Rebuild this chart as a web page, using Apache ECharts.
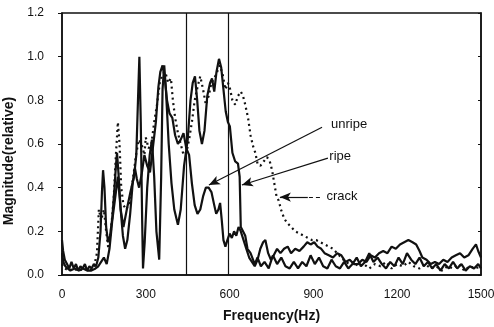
<!DOCTYPE html>
<html>
<head>
<meta charset="utf-8">
<script src="https://cdn.jsdelivr.net/npm/echarts@6/dist/echarts.min.js"></script>
<style>
html,body{margin:0;padding:0;background:#fff;}
#chart{width:494px;height:327px;}
</style>
</head>
<body>
<div id="chart"></div>
<script>
// ---- data (frequency in Hz, magnitude relative) ----
const unripeFreq = [0,4,10,18,26,34,42,50,58,66,74,82,90,98,106,114,122,130,138,143,147,152,158,165,172,180,188,193,197,203,210,218,226,234,244,253,261,268,276,285,295,305,315,326,336,345,352,360,368,376,385,395,405,415,425,435,445,455,465,475,485,495,505,515,525,535,545,552,560,566,572,578,585,592,600,608,616,624,632,640,650,660,670,680,690,700,710,720,728,738,748,758,770,782,795,808,820,835,850,865,878,890,903,915,928,940,955,970,985,1000,1015,1030,1045,1060,1075,1090,1105,1120,1135,1150,1165,1180,1195,1210,1225,1240,1255,1268,1280,1290,1305,1320,1335,1350,1365,1380,1395,1410,1425,1440,1455,1470,1482,1490,1500];
const unripeMag = [0.16,0.11,0.07,0.05,0.03,0.06,0.03,0.05,0.02,0.04,0.03,0.05,0.02,0.04,0.03,0.05,0.04,0.08,0.2,0.38,0.48,0.4,0.22,0.15,0.18,0.26,0.4,0.5,0.56,0.45,0.3,0.18,0.12,0.16,0.28,0.42,0.49,0.44,0.4,0.46,0.55,0.5,0.47,0.59,0.7,0.86,0.93,0.96,0.9,0.8,0.74,0.72,0.64,0.6,0.62,0.65,0.58,0.55,0.42,0.32,0.28,0.3,0.36,0.4,0.4,0.38,0.32,0.28,0.3,0.33,0.25,0.16,0.13,0.16,0.19,0.17,0.2,0.18,0.22,0.2,0.16,0.12,0.08,0.06,0.04,0.07,0.12,0.15,0.16,0.1,0.07,0.09,0.12,0.1,0.12,0.13,0.1,0.12,0.11,0.13,0.15,0.14,0.15,0.13,0.12,0.1,0.09,0.08,0.1,0.09,0.06,0.07,0.05,0.05,0.07,0.06,0.09,0.08,0.1,0.11,0.1,0.13,0.12,0.14,0.15,0.16,0.15,0.14,0.11,0.08,0.07,0.05,0.06,0.05,0.07,0.06,0.08,0.09,0.1,0.08,0.09,0.12,0.14,0.11,0.08];

const ripeFreq = [0,5,12,20,30,45,60,75,90,105,120,130,140,150,160,170,180,190,200,210,220,232,245,258,266,272,277,282,287,290,296,305,314,322,330,338,348,355,360,366,372,382,392,402,415,425,437,450,460,468,476,484,492,501,510,520,530,537,545,553,562,570,578,586,594,601,610,620,630,636,640,648,656,664,675,690,700,712,725,740,755,770,785,800,815,830,845,860,875,890,905,920,935,950,965,980,995,1010,1025,1040,1055,1070,1085,1100,1115,1130,1145,1160,1175,1190,1205,1220,1235,1250,1265,1280,1295,1310,1325,1340,1355,1370,1385,1400,1415,1430,1445,1460,1475,1490,1500];
const ripeMag = [0.1,0.06,0.04,0.03,0.02,0.03,0.02,0.03,0.02,0.02,0.03,0.04,0.06,0.08,0.05,0.12,0.25,0.35,0.45,0.3,0.22,0.3,0.38,0.45,0.55,0.8,1.0,0.7,0.25,0.03,0.15,0.4,0.55,0.62,0.45,0.2,0.07,0.45,0.85,0.96,0.85,0.6,0.42,0.3,0.23,0.3,0.5,0.62,0.8,0.88,0.91,0.8,0.66,0.6,0.66,0.82,0.88,0.9,0.84,0.93,0.99,0.95,0.85,0.75,0.7,0.68,0.56,0.52,0.51,0.45,0.22,0.2,0.18,0.12,0.1,0.05,0.08,0.04,0.06,0.03,0.09,0.05,0.08,0.04,0.03,0.06,0.03,0.06,0.04,0.09,0.05,0.08,0.04,0.03,0.07,0.04,0.03,0.06,0.03,0.05,0.08,0.04,0.06,0.1,0.06,0.08,0.05,0.03,0.06,0.04,0.08,0.05,0.1,0.07,0.05,0.08,0.04,0.06,0.03,0.05,0.02,0.05,0.03,0.06,0.03,0.05,0.02,0.04,0.03,0.05,0.03];

const crackFreq = [0,10,25,40,60,80,100,115,125,132,140,150,158,166,175,185,193,200,206,212,220,230,242,255,265,275,285,295,300,310,320,330,340,350,360,370,380,390,397,405,415,425,435,445,455,465,475,485,495,505,515,525,535,545,555,565,575,585,594,602,610,620,630,640,648,656,666,675,684,692,700,710,722,734,744,752,760,768,776,784,795,805,820,835,850,865,880,895,910,925,940,955,970,985,1000,1015,1030,1045,1060,1080,1100,1120,1140,1160,1180,1200,1220,1240,1260,1280,1300,1320,1340,1360,1380,1400,1420,1440,1460,1480,1500];
const crackMag = [0.05,0.03,0.02,0.03,0.02,0.03,0.02,0.04,0.1,0.3,0.25,0.3,0.2,0.12,0.2,0.35,0.55,0.7,0.6,0.4,0.32,0.3,0.33,0.45,0.55,0.62,0.6,0.55,0.63,0.58,0.6,0.7,0.78,0.88,0.92,0.93,0.88,0.9,0.8,0.72,0.65,0.6,0.55,0.56,0.62,0.7,0.8,0.86,0.91,0.85,0.78,0.82,0.88,0.9,0.93,0.96,0.92,0.85,0.88,0.85,0.8,0.78,0.82,0.84,0.82,0.78,0.72,0.64,0.59,0.56,0.51,0.5,0.52,0.54,0.52,0.48,0.42,0.36,0.34,0.3,0.26,0.24,0.22,0.2,0.19,0.18,0.17,0.16,0.16,0.15,0.14,0.13,0.12,0.1,0.08,0.06,0.05,0.06,0.04,0.05,0.03,0.05,0.04,0.06,0.03,0.05,0.04,0.06,0.04,0.03,0.05,0.03,0.04,0.02,0.04,0.03,0.05,0.02,0.04,0.03,0.04];

const bandEdges = [445, 595];              // vertical marker lines (Hz)
const xTicks = { min: 0, max: 1500, step: 300 };
const yTicks = { min: 0, max: 1.2, step: 0.2 };

// annotation: label, text anchor [Hz, mag], line start, arrow tip
const annotNames = ['unripe', 'ripe', 'crack'];
const annotText = [[963, 0.69], [957, 0.545], [947, 0.36]];
const annotStart = [[931, 0.677], [952, 0.535], [880, 0.357]];
const annotTip = [[526, 0.412], [644, 0.412], [780, 0.357]];
const crackDashFrom = [[884, 0.357], [924, 0.357]];

function pairs(xs, ys) { return xs.map((x, i) => [x, ys[i]]); }

const FONT = 'Liberation Sans, Arial, Helvetica, sans-serif';
const INK = '#111';

const chart = echarts.init(document.getElementById('chart'), null, { renderer: 'canvas' });

const arrowLines = annotNames.map((n, i) => [
  { coord: annotStart[i], symbol: 'none' },
  { coord: annotTip[i], symbol: 'arrow', symbolSize: [7, 11] }
]);

const option = {
  animation: false,
  backgroundColor: '#fff',
  grid: { left: 62, right: 13, top: 13, bottom: 52, show: true, borderColor: INK, borderWidth: 1.5, containLabel: false, outerBoundsMode: 'none' },
  xAxis: {
    type: 'value', min: xTicks.min, max: xTicks.max, interval: xTicks.step,
    name: 'Frequency(Hz)', nameLocation: 'middle', nameGap: 34,
    nameTextStyle: { fontFamily: FONT, fontSize: 14, fontWeight: 'bold', color: INK },
    axisLine: { show: true, lineStyle: { color: INK, width: 1.5 } },
    axisTick: { show: false },
    axisLabel: { fontFamily: FONT, fontSize: 12, color: INK, margin: 14, formatter: v => String(v) },
    splitLine: { show: false }
  },
  yAxis: [{
    type: 'value', min: yTicks.min, max: yTicks.max, interval: yTicks.step,
    name: 'Magnitude(relative)', nameLocation: 'middle', nameGap: 37, nameRotate: 90,
    nameTextStyle: { fontFamily: FONT, fontSize: 14, fontWeight: 'bold', color: INK, padding: [0, 34, 0, 0] },
    axisLine: { show: true, lineStyle: { color: INK, width: 1.5 } },
    axisTick: { show: true, inside: false, length: 4, lineStyle: { color: INK } },
    axisLabel: { fontFamily: FONT, fontSize: 12, color: INK, margin: 18, formatter: v => v.toFixed(1) },
    splitLine: { show: false }
  }, {
    type: 'value', position: 'right', min: yTicks.min, max: yTicks.max, interval: yTicks.step,
    axisLine: { show: true, lineStyle: { color: INK, width: 1.5 } },
    axisTick: { show: true, inside: true, length: 3, lineStyle: { color: INK } },
    axisLabel: { show: false }, splitLine: { show: false }
  }],
  series: [
    {
      name: 'crack', type: 'line', data: pairs(crackFreq, crackMag), showSymbol: false, smooth: false,
      lineStyle: { color: INK, width: 2.2, type: [2, 3.5] }, z: 2,
      markLine: {
        silent: true, symbol: 'none', label: { show: false },
        lineStyle: { color: INK, width: 1.2, type: 'solid' },
        data: bandEdges.map(v => ({ xAxis: v }))
      }
    },
    {
      name: 'unripe', type: 'line', data: pairs(unripeFreq, unripeMag), showSymbol: false,
      lineStyle: { color: INK, width: 2.2 }, z: 3
    },
    {
      name: 'ripe', type: 'line', data: pairs(ripeFreq, ripeMag), showSymbol: false,
      lineStyle: { color: INK, width: 2.2 }, z: 3,
      markLine: {
        silent: true, label: { show: false },
        lineStyle: { color: INK, width: 1.2, type: 'solid' },
        data: arrowLines.concat([[
          { coord: crackDashFrom[0], symbol: 'none', lineStyle: { type: [4, 3] } },
          { coord: crackDashFrom[1], symbol: 'none' }
        ]])
      },
      markPoint: {
        silent: true, symbol: 'circle', symbolSize: 0,
        label: { show: true, position: 'right', distance: 0, fontFamily: FONT, fontSize: 13, color: INK, formatter: p => p.name },
        data: annotNames.map((n, i) => ({ name: n, coord: annotText[i] }))
      }
    }
  ]
};
chart.setOption(option);
</script>
</body>
</html>
